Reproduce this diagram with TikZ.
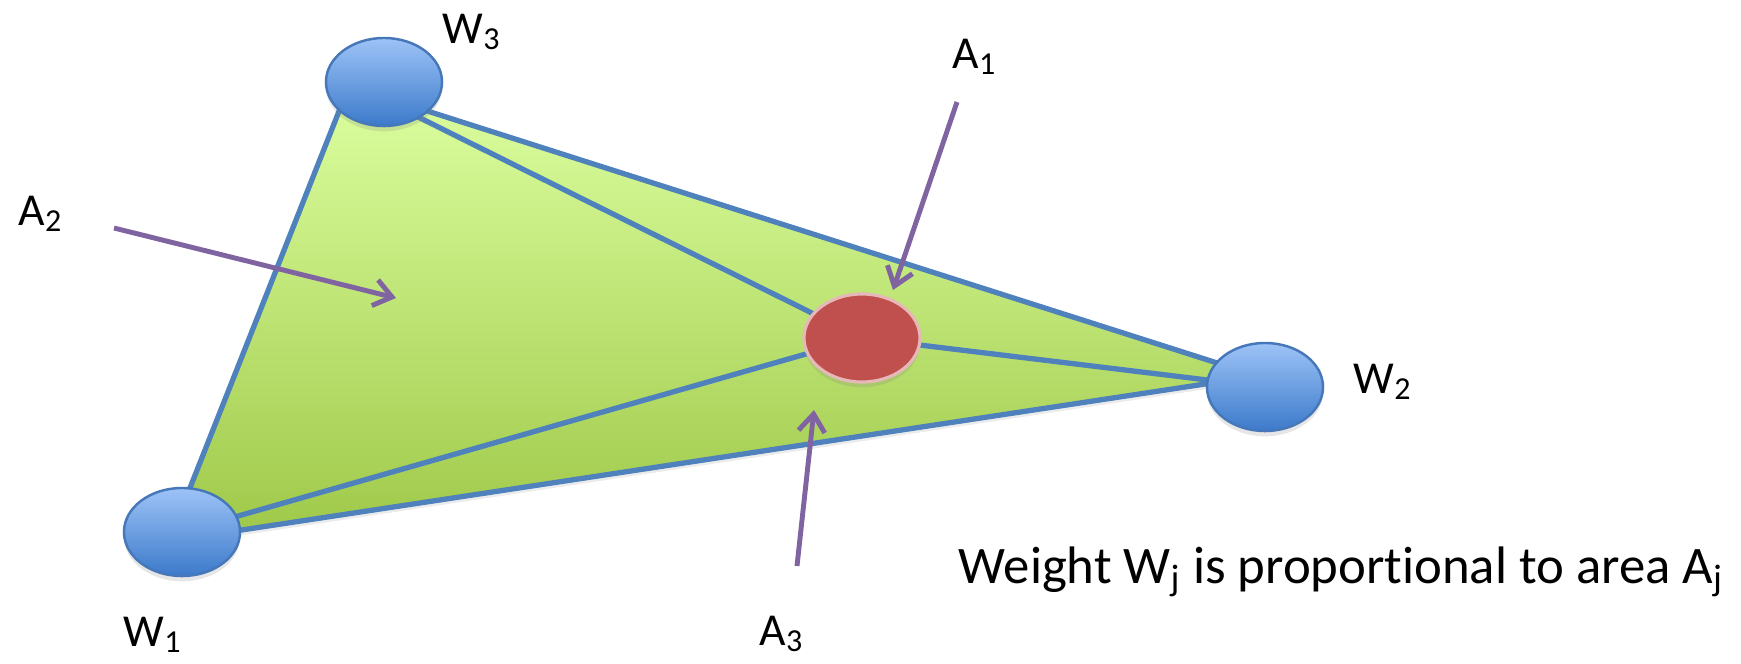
\documentclass[tikz,border=0pt]{standalone}
\usepackage{fontspec}
\setmainfont{Carlito}[Ligatures=CommonOff]
\usetikzlibrary{shapes.geometric,arrows.meta,shadows}
\pgfdeclarelayer{background}
\pgfsetlayers{background,main}
\definecolor{edgeblue}{RGB}{79,129,189}
\definecolor{ballborder}{RGB}{70,120,185}
\definecolor{balltop}{RGB}{157,195,247}
\definecolor{ballbottom}{RGB}{60,122,202}
\definecolor{areatop}{RGB}{220,255,160}
\definecolor{areabottom}{RGB}{158,200,72}
\definecolor{pointred}{RGB}{192,80,77}
\definecolor{pointrim}{RGB}{230,185,184}
\definecolor{arrowpurple}{RGB}{128,100,162}
\tikzset{
  edge/.style={draw=edgeblue, line width=1.5pt},
  weightnode/.style={ellipse, draw=ballborder, line width=0.7pt,
    top color=balltop, bottom color=ballbottom,
    minimum width=1.16cm, minimum height=0.88cm, inner sep=0pt,
    drop shadow={shadow xshift=0pt, shadow yshift=-1.5pt, opacity=0.2}},
  pointnode/.style={ellipse, draw=pointrim, line width=0.9pt, fill=pointred,
    minimum width=1.16cm, minimum height=0.88cm, inner sep=0pt,
    drop shadow={shadow xshift=0pt, shadow yshift=-1.5pt, opacity=0.2}},
  pointer/.style={draw=arrowpurple, line width=1.4pt,
    -{Straight Barb[length=5pt,width=7.5pt]}},
  lbl/.style={anchor=base west, inner sep=0pt, font=\fontsize{13}{15}\selectfont},
  note/.style={anchor=base west, inner sep=0pt, font=\fontsize{15}{18}\selectfont}
}
\begin{document}
\begin{tikzpicture}[x=0.01cm, y=-0.01cm]
    \useasboundingbox (0,0) rectangle (1741,663);

    \coordinate (T) at (349,86);
    \coordinate (L) at (169,541);
    \coordinate (R) at (1258,376);

    \node[weightnode] (w1) at (182,532) {};
    \node[weightnode] (w2) at (1265,387) {};
    \node[weightnode] (w3) at (384,82) {};
    \node[pointnode] (p) at (862,338) {};

    \begin{pgfonlayer}{background}
      \draw[edge, top color=areatop, bottom color=areabottom,
        drop shadow={shadow xshift=0pt, shadow yshift=-1.5pt, opacity=0.15}]
        (T) -- (R) -- (L) -- cycle;
      \draw[edge] ([yshift=-0.18cm]w3.center) -- (p.center);
      \draw[edge] (w1.center) -- (p.center);
      \draw[edge] (p.center) -- (w2.center);
    \end{pgfonlayer}

    \coordinate (a1from) at (957,102);
    \coordinate (a1to) at (893,290);
    \coordinate (a2from) at (114,228);
    \coordinate (a2to) at (396,298);
    \coordinate (a3from) at (797,566);
    \coordinate (a3to) at (814,410);

    \draw[pointer] (a1from) -- (a1to);
    \draw[pointer] (a2from) -- (a2to);
    \draw[pointer] (a3from) -- (a3to);

    \node[lbl] (lw1) at (123,646) {W\textsubscript{1}};
    \node[lbl] (lw2) at (1353,393) {W\textsubscript{2}};
    \node[lbl] (lw3) at (442,43) {W\textsubscript{3}};
    \node[lbl] (la1) at (952,68) {A\textsubscript{1}};
    \node[lbl] (la2) at (18,225) {A\textsubscript{2}};
    \node[lbl] (la3) at (759,645) {A\textsubscript{3}};
    \node[note] (rule) at (958,583) {Weight W\textsubscript{j} is proportional to area A\textsubscript{j}};
  \end{tikzpicture}
\end{document}
